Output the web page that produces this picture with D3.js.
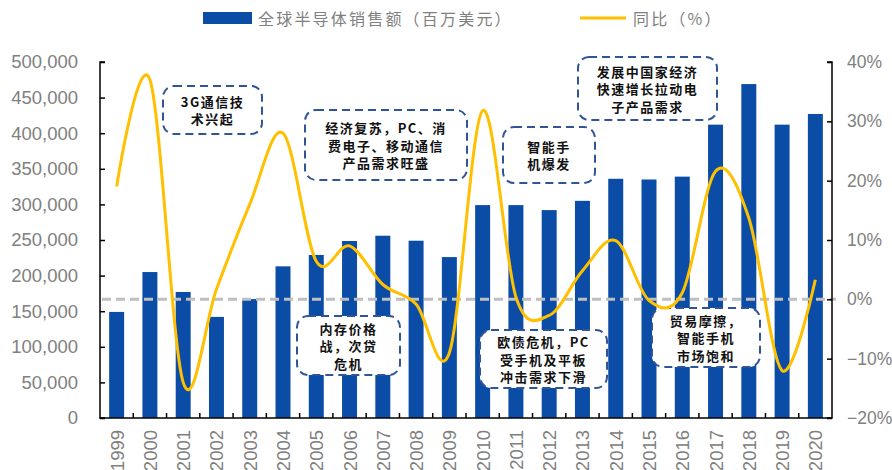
<!DOCTYPE html>
<html><head><meta charset="utf-8">
<script src="https://cdn.jsdelivr.net/npm/d3@7"></script>
<style>
body{margin:0;background:#fff;}
svg{display:block;}
</style></head>
<body>
<svg id="chart" width="892" height="470"></svg>
<script>
const years = ["1999","2000","2001","2002","2003","2004","2005","2006","2007","2008","2009","2010","2011","2012","2013","2014","2015","2016","2017","2018","2019","2020"];
const sales = [149000,205000,177000,142000,167000,213000,229000,248600,256000,249000,226000,299000,299000,292000,305000,336000,335000,339000,412000,469000,412000,427000];
const yoy = [0.19,0.37,-0.14,0.017,0.16,0.28,0.064,0.09,0.025,-0.008,-0.09,0.318,0.004,-0.027,0.048,0.099,-0.002,0.011,0.216,0.137,-0.12,0.033];
const leftTicks = [0,50000,100000,150000,200000,250000,300000,350000,400000,450000,500000];
const rightTicks = [-0.2,-0.1,0,0.1,0.2,0.3,0.4];
const legendLabels = ["全球半导体销售额（百万美元）","同比（%）"];
const notes = [
  {lines:["3G通信技","术兴起"], box:[163,86,262,134]},
  {lines:["经济复苏，PC、消","费电子、移动通信","产品需求旺盛"], box:[305,110,467,180]},
  {lines:["智能手","机爆发"], box:[503,127,595,183]},
  {lines:["发展中国家经济","快速增长拉动电","子产品需求"], box:[578,57,717,120]},
  {lines:["内存价格","战，次贷","危机"], box:[297,316,400,375]},
  {lines:["欧债危机，PC","受手机及平板","冲击需求下滑"], box:[480,330,607,388]},
  {lines:["贸易摩擦，","智能手机","市场饱和"], box:[652,308,760,367]}
];

const svg = d3.select("#chart");
const L = 100, R = 832, T = 62, B = 418;
const x = d3.scaleBand().domain(years).range([L,R]).paddingInner(0.55).paddingOuter(0.275);
const xb = d3.scaleBand().domain(years).range([L,R]);
const yL = d3.scaleLinear().domain([0,500000]).range([B,T]);
const yR = d3.scaleLinear().domain([-0.2,0.4]).range([B,T]);
const gray = "#808080";
const barColor = "#0a4ca6";
const lineColor = "#ffc000";

svg.append("g").selectAll("rect").data(years).join("rect")
  .attr("x", d=>x(d)).attr("width", x.bandwidth())
  .attr("y", (d,i)=>yL(sales[i])).attr("height",(d,i)=>B-yL(sales[i]))
  .attr("fill", barColor);

svg.append("line").attr("x1",L+2).attr("x2",R+4).attr("y1",yR(0)).attr("y2",yR(0))
  .attr("stroke","#bfbfbf").attr("stroke-width",3).attr("stroke-dasharray","9,5");

const ng = svg.append("g");
notes.forEach(n=>{
  const [x0,y0,x1,y1] = n.box;
  ng.append("rect").attr("x",x0).attr("y",y0).attr("width",x1-x0).attr("height",y1-y0)
    .attr("rx",11).attr("fill","#fff").attr("stroke","#2f5597").attr("stroke-width",2)
    .attr("stroke-dasharray","8,5");
  const lh = 17.5;
  const cy = (y0+y1)/2;
  n.lines.forEach((t,i)=>{
    ng.append("text").attr("x",(x0+x1)/2).attr("y", cy + (i-(n.lines.length-1)/2)*lh)
      .attr("text-anchor","middle").attr("dominant-baseline","central")
      .attr("font-family","'Noto Sans CJK SC'").attr("font-size",13).attr("font-weight",700)
      .attr("letter-spacing",1.5).attr("fill","#111").text(t);
  });
});

const line = d3.line().x((d,i)=>xb(years[i])+xb.bandwidth()/2).y(d=>yR(d)).curve(d3.curveCatmullRom.alpha(0));
svg.append("path").datum(yoy).attr("d",line).attr("fill","none").attr("stroke",lineColor).attr("stroke-width",3);

const axL = svg.append("g").attr("transform",`translate(${L},0)`)
  .call(d3.axisRight(yL).tickValues(leftTicks).tickSize(5).tickFormat(d3.format(",")));
axL.select(".domain").attr("d",`M5,${T}H0V${B}H5`).attr("stroke","#000").attr("stroke-width",1.5);
axL.selectAll(".tick line").attr("stroke","#000").attr("stroke-width",1.5);
axL.selectAll(".tick text").attr("x",-22).attr("text-anchor","end").attr("fill",gray)
  .attr("font-family","'Liberation Sans',Arial").attr("font-size",18.5);

const axR = svg.append("g").attr("transform",`translate(${R},0)`)
  .call(d3.axisLeft(yR).tickValues(rightTicks).tickSize(5).tickFormat(d3.format(".0%")));
axR.select(".domain").attr("d",`M-5,${T}H0V${B}H-5`).attr("stroke","#000").attr("stroke-width",1.5);
axR.selectAll(".tick line").attr("stroke","#000").attr("stroke-width",1.5);
axR.selectAll(".tick text").attr("x",15).attr("text-anchor","start").attr("fill",gray)
  .attr("font-family","'Liberation Sans',Arial").attr("font-size",17.5);

const gx = svg.append("g");
gx.append("line").attr("x1",L).attr("x2",R).attr("y1",B).attr("y2",B).attr("stroke","#000").attr("stroke-width",1.5);
gx.selectAll("line.t").data(years.slice(1)).join("line").attr("class","t")
  .attr("x1",d=>xb(d)).attr("x2",d=>xb(d)).attr("y1",B).attr("y2",B-5).attr("stroke","#000").attr("stroke-width",1.5);
gx.selectAll("text").data(years).join("text")
  .attr("transform",d=>`translate(${xb(d)+xb.bandwidth()/2+7},430) rotate(-90)`)
  .attr("text-anchor","end").attr("fill",gray)
  .attr("font-family","'Liberation Sans',Arial").attr("font-size",18.5).text(d=>d);

const lg = svg.append("g");
lg.append("rect").attr("x",203).attr("y",12).attr("width",49).attr("height",12).attr("fill",barColor);
lg.append("text").attr("x",258).attr("y",18).attr("dominant-baseline","central").attr("fill",gray)
  .attr("font-family","'Noto Sans CJK SC'").attr("font-size",16).attr("letter-spacing",2.2).text(legendLabels[0]);
lg.append("line").attr("x1",580).attr("x2",626).attr("y1",18).attr("y2",18).attr("stroke",lineColor).attr("stroke-width",3);
lg.append("text").attr("x",633).attr("y",18).attr("dominant-baseline","central").attr("fill",gray)
  .attr("font-family","'Noto Sans CJK SC'").attr("font-size",16).attr("letter-spacing",2.2).text(legendLabels[1]);
</script>
</body></html>
